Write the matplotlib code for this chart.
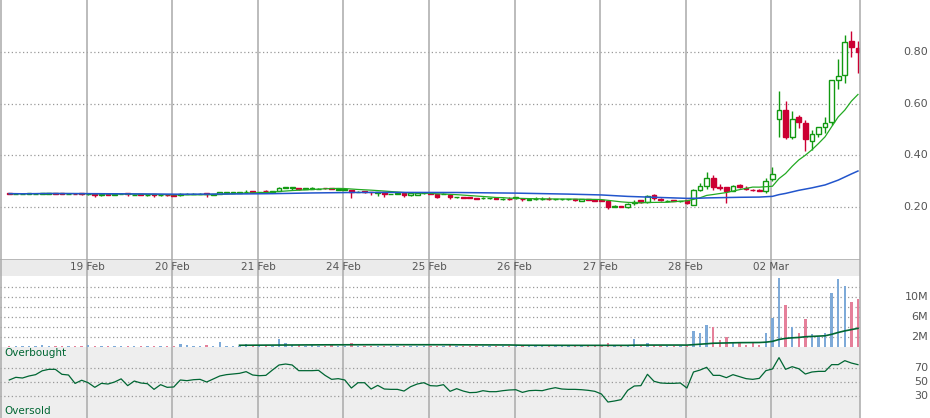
import matplotlib
matplotlib.use("Agg")
import matplotlib.pyplot as plt
import pandas as pd
from matplotlib.lines import Line2D
from matplotlib.transforms import blended_transform_factory

# 30-minute bars, 18 Feb .. 02 Mar
opens = [.253, .249, .250, .249, .251, .250, .251, .253, .252, .250, .251, .252,
         .248, .249, .245, .248, .247, .250, .252, .247, .248, .245, .248, .244, .245,
         .244, .245, .250, .251, .251, .252, .247, .250, .254, .254, .254, .256, .260,
         .256, .262, .257, .261, .273, .274, .271, .268, .270, .269, .272, .271, .266,
         .265, .265, .258, .261, .258, .252, .256, .249, .251, .252, .244, .247, .252,
         .252, .248, .250, .247, .236, .236, .236, .234, .233, .232, .234, .229, .231,
         .232, .231, .228, .229, .229, .230, .229, .229, .229, .229, .224, .229, .228, .226,
         .224, .200, .202, .200, .213, .226, .218, .247, .229, .223, .226, .221,
         .225, .206, .265, .280, .310, .277, .275, .262, .284, .272, .266, .265, .260,
         .306, .540, .575, .470, .547, .525, .456, .481, .508, .528, .691, .710, .842, .815]
highs = [.253, .251, .251, .253, .252, .255, .255, .253, .253, .251, .252, .252,
         .249, .249, .249, .248, .249, .252, .252, .248, .248, .247, .248, .245, .245,
         .244, .252, .252, .252, .252, .252, .249, .258, .256, .256, .258, .264, .261,
         .258, .265, .263, .276, .276, .276, .272, .273, .275, .271, .272, .271, .268,
         .268, .266, .260, .262, .258, .258, .257, .251, .253, .253, .252, .253, .253,
         .253, .249, .252, .248, .238, .237, .237, .235, .237, .234, .235, .232, .236,
         .237, .231, .230, .239, .239, .239, .230, .230, .230, .229, .229, .230, .229, .227,
         .225, .206, .203, .214, .226, .227, .245, .249, .233, .228, .227, .223,
         .226, .270, .291, .336, .323, .287, .278, .285, .290, .280, .270, .268, .310,
         .353, .650, .610, .573, .556, .535, .498, .510, .548, .691, .772, .867, .882, .845]
lows = [.251, .249, .250, .249, .250, .249, .251, .249, .251, .249, .249, .247,
        .247, .237, .240, .246, .247, .249, .242, .246, .246, .240, .237, .243, .243,
        .240, .243, .250, .250, .250, .236, .246, .250, .253, .253, .253, .255, .255,
        .255, .252, .256, .260, .272, .265, .266, .267, .269, .268, .269, .268, .265,
        .264, .235, .257, .255, .247, .241, .239, .248, .250, .239, .243, .246, .251,
        .250, .235, .249, .229, .235, .234, .232, .230, .231, .231, .229, .228, .228,
        .231, .221, .227, .228, .228, .228, .228, .228, .228, .223, .223, .227, .223, .222,
        .192, .199, .198, .197, .208, .216, .216, .228, .222, .222, .221, .220,
        .211, .205, .262, .270, .265, .265, .216, .260, .272, .265, .262, .262, .255,
        .300, .470, .462, .465, .505, .417, .420, .470, .485, .518, .656, .679, .780, .718]
closes = [.251, .250, .250, .252, .251, .253, .253, .250, .251, .251, .250, .250,
          .249, .247, .249, .247, .248, .251, .249, .247, .247, .247, .244, .244, .244,
          .240, .248, .251, .251, .251, .248, .248, .257, .256, .256, .257, .258, .256,
          .257, .260, .262, .273, .275, .275, .268, .271, .272, .270, .271, .269, .268,
          .267, .256, .259, .256, .256, .257, .251, .250, .252, .247, .252, .252, .252,
          .251, .236, .251, .239, .237, .235, .233, .231, .234, .233, .230, .231, .229,
          .236, .229, .229, .229, .230, .229, .229, .229, .229, .228, .229, .228, .224, .223,
          .200, .201, .199, .209, .220, .218, .243, .233, .226, .224, .222, .222,
          .213, .265, .282, .310, .278, .273, .262, .282, .277, .270, .264, .263, .300,
          .327, .575, .472, .540, .528, .462, .481, .508, .524, .691, .708, .840, .819, .800]

# volume in millions
volume_m = [.2, .2, .2, .2, .2, .4, .2, .2, .2, .2, .2, .2,
            .4, .2, .2, .2, .2, .2, .2, .2, .2, .2, .2, .2, .2,
            .2, .6, .35, .2, .2, .3, .2, .9, .2, .2, .2, .5, .4,
            .4, .4, .2, 1.6, .8, .4, .4, .2, .4, .2, .2, .4, .2,
            .2, .8, .2, .2, .2, .2, .2, .2, .2, .2, .2, .2, .2,
            .2, .2, .2, .6, .2, .2, .2, .2, .2, .2, .2, .2, .2,
            .2, .2, .2, .2, .2, .2, .2, .2, .2, .2, .2, .2, .2, .2,
            .8, .2, .2, .2, 1.6, .2, .8, .4, .2, .2, .2, .2,
            .2, 3.2, 2.8, 4.4, 3.9, 1.4, 2.0, .8, .8, .4, .8, .4, 2.8,
            5.8, 13.8, 8.4, 4.0, 2.8, 5.5, 2.5, 2.0, 2.8, 10.8, 13.6, 12.2, 9.0, 9.6]

rsi = [52.9, 56.7, 55.7, 58.6, 60.5, 66.0, 68.1, 68.1, 61.0, 60.0, 48.0, 52.5,
       49.0, 42.4, 48.1, 47.1, 50.0, 54.5, 44.8, 51.4, 48.6, 47.6, 39.5, 46.2, 42.4,
       42.9, 52.9, 51.9, 53.3, 53.8, 50.0, 54.3, 58.6, 60.5, 61.4, 62.4, 64.8, 60.0,
       59.0, 59.5, 67.1, 74.3, 75.7, 74.3, 66.2, 66.2, 66.2, 66.7, 59.5, 53.8, 54.8,
       52.9, 41.4, 49.0, 49.0, 40.0, 45.2, 40.0, 39.5, 39.5, 37.1, 43.3, 47.1, 49.0,
       44.8, 44.3, 46.2, 36.7, 40.5, 37.1, 34.8, 35.2, 37.6, 36.2, 36.2, 37.6, 38.6,
       39.0, 35.2, 37.6, 38.1, 37.6, 40.0, 41.9, 40.0, 39.5, 39.5, 39.0, 38.1, 36.7,
       32.9, 21.4, 22.9, 24.8, 38.1, 44.3, 44.8, 61.0, 51.0, 48.6, 48.1, 48.1, 48.6,
       41.4, 64.3, 67.1, 71.0, 59.5, 59.5, 56.2, 60.5, 57.6, 54.8, 53.8, 55.2, 66.2,
       68.6, 84.8, 68.1, 71.9, 69.0, 61.4, 64.3, 65.2, 65.2, 74.8, 74.8, 80.5, 77.1, 74.8]

day_labels = ["19 Feb", "20 Feb", "21 Feb", "24 Feb", "25 Feb",
              "26 Feb", "27 Feb", "28 Feb", "02 Mar"]
day_first_bar = [12, 25, 38, 51, 64, 77, 90, 103, 116]
first_session_bar = -1

price_ticks = [0.20, 0.40, 0.60, 0.80]
vol_grid = [2, 4, 6, 8, 10, 12]
vol_ticks = [2, 6, 10]
rsi_ticks = [30, 50, 70]

W, H = 930, 418
PLOT_W = 860
fig = plt.figure(figsize=(W / 100, H / 100), dpi=100)


def panel(top, bottom, bg="white"):
    ax = fig.add_axes([0, 1 - bottom / H, PLOT_W / W, (bottom - top) / H])
    ax.set_facecolor(bg)
    ax.set_xlim(-1.41, 129.31)
    for s in ax.spines.values():
        s.set_visible(False)
    ax.set_xticks([])
    ax.set_yticks([])
    return ax


GRID = "#aaaaaa"
DOT = dict(color="#999999", linestyle=(0, (1, 2)), linewidth=0.9, zorder=1)
LABEL = dict(color="#555555", fontsize=8, ha="right", va="center")
lab_x = 928 / PLOT_W

ax_p = panel(0, 259)
ax_d = panel(259, 276, "#ebebeb")
ax_v = panel(276, 347)
ax_r = panel(347, 418, "#eeeeee")

ax_p.set_ylim(-0.003, 1.003)
ax_v.set_ylim(-0.1, 14.1)
ax_r.set_ylim(-1.4, 100)
ax_d.set_ylim(0, 1)

day_lines = [first_session_bar] + day_first_bar
for ax in (ax_p, ax_d, ax_v, ax_r):
    for d in day_lines:
        ax.axvline(d - 0.2, color=GRID, linewidth=1.1, zorder=2)

# price panel
tp = blended_transform_factory(ax_p.transAxes, ax_p.transData)
for t in price_ticks:
    ax_p.axhline(t, **DOT)
    ax_p.text(lab_x, t, f"{t:.2f}", transform=tp, clip_on=False, **LABEL)

x = list(range(len(closes)))
UP, DOWN = "#119911", "#cc0033"
for i in x:
    o, h, l, c = opens[i], highs[i], lows[i], closes[i]
    col = UP if c >= o else DOWN
    ax_p.vlines(i, l, h, color=col, linewidth=1.0, zorder=3)
    face = "white" if c > o else col
    ax_p.bar(i, abs(c - o), bottom=min(o, c), width=0.72, facecolor=face,
             edgecolor=col, linewidth=1.0, zorder=4)

cs = pd.Series(closes)
ax_p.plot(x, cs.rolling(10, min_periods=1).mean(), color="#22aa22", linewidth=0.9, zorder=5)
ax_p.plot(x, cs.rolling(50, min_periods=1).mean(), color="#2255cc", linewidth=1.1, zorder=5)

# date strip
ax_d.axhline(1, color=GRID, linewidth=1.1)
for d, lab in zip(day_first_bar, day_labels):
    ax_d.text(d - 0.2, 0.5, lab, ha="center", va="center", fontsize=7.5, color="#555555")

# volume panel
tv = blended_transform_factory(ax_v.transAxes, ax_v.transData)
for g in vol_grid:
    ax_v.axhline(g, **DOT)
for t in vol_ticks:
    ax_v.text(lab_x, t, f"{t}M", transform=tv, clip_on=False, **LABEL)
vcol = ["#7eaad8" if closes[i] >= opens[i] else "#e5809a" for i in x]
ax_v.bar(x, volume_m, width=0.36, color=vcol, zorder=3)
vma = pd.Series(volume_m).rolling(36).mean()
ax_v.plot(x, vma, color="#006633", linewidth=1.2, zorder=4)

# RSI panel
tr = blended_transform_factory(ax_r.transAxes, ax_r.transData)
for t in rsi_ticks:
    ax_r.axhline(t, **DOT)
    ax_r.text(lab_x, t, str(t), transform=tr, clip_on=False, **LABEL)
ax_r.plot(x, rsi, color="#006633", linewidth=0.9, zorder=4)
ax_r.text(4 / PLOT_W, 0.911, "Overbought", transform=ax_r.transAxes,
          color="#006633", fontsize=7.5, va="center")
ax_r.text(4 / PLOT_W, 0.094, "Oversold", transform=ax_r.transAxes,
          color="#006633", fontsize=7.5, va="center")

fig.add_artist(Line2D([PLOT_W / W] * 2, [0, 1], color=GRID, linewidth=1.1))

fig.savefig("out.png", dpi=100)
plt.close(fig)
